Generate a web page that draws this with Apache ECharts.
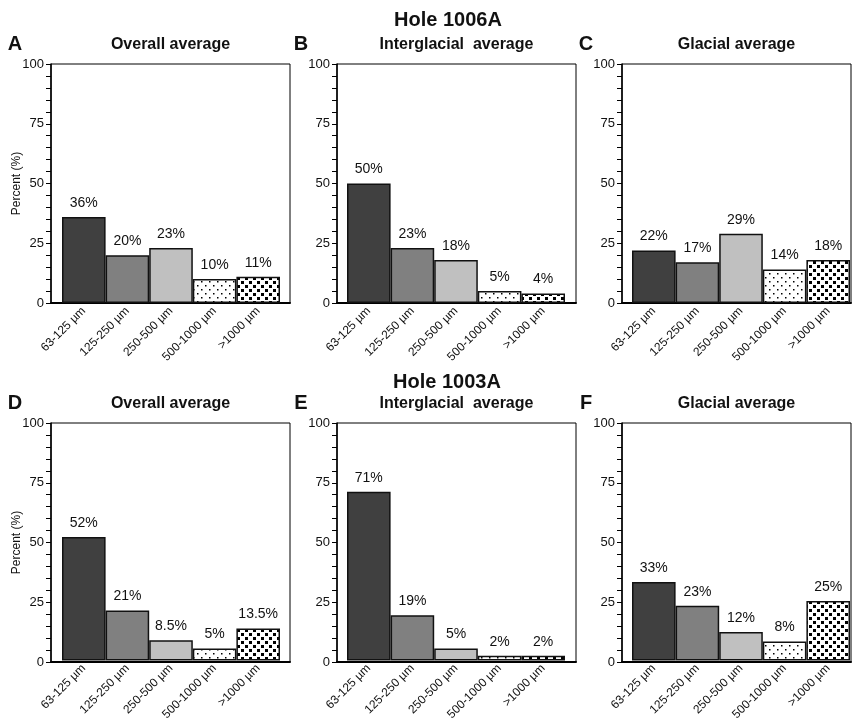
<!DOCTYPE html>
<html>
<head>
<meta charset="utf-8">
<style>
    html, body { margin: 0; padding: 0; background: #fff; }
    #main { width: 852px; height: 723px; }
</style>
<script src="https://cdn.jsdelivr.net/npm/echarts@6/dist/echarts.min.js"></script>
</head>
<body>
<div id="main"></div>
<script>
    var categories = ['63-125 µm', '125-250 µm', '250-500 µm', '500-1000 µm', '>1000 µm'];
    var majorTicks = [0, 25, 50, 75, 100];

    // Hole 1006A
    var overall1006A = [36, 20, 23, 10, 11];
    var interglacial1006A = [50, 23, 18, 5, 4];
    var glacial1006A = [22, 17, 29, 14, 18];
    // Hole 1003A
    var overall1003A = [52, 21, 8.5, 5, 13.5];
    var interglacial1003A = [71, 19, 5, 2, 2];
    var glacial1003A = [33, 23, 12, 8, 25];

    var FONT = '"Liberation Sans", Arial, Helvetica, sans-serif';

    // fill patterns for the two coarse fractions
    function makePattern(size, dots, dotSize) {
        var c = document.createElement('canvas');
        c.width = size;
        c.height = size;
        var ctx = c.getContext('2d');
        ctx.fillStyle = '#fff';
        ctx.fillRect(0, 0, size, size);
        ctx.fillStyle = '#000';
        dots.forEach(function (d) {
            ctx.fillRect(d[0], d[1], dotSize, dotSize);
        });
        return c;
    }
    var sparseDots = makePattern(8, [[1, 1], [5, 5]], 1.5);
    var denseDots = makePattern(8, [[1, 1], [5, 5]], 3);

    var barFills = [
        '#404040',
        '#808080',
        '#c0c0c0',
        { image: sparseDots, repeat: 'repeat' },
        { image: denseDots, repeat: 'repeat' }
    ];

    var panels = [
        { letter: 'A', title: 'Overall average', data: overall1006A, axisX: 51, barX: 62, frameX: 290, top: 64, yName: true },
        { letter: 'B', title: 'Interglacial  average', data: interglacial1006A, axisX: 337, barX: 347, frameX: 576, top: 64 },
        { letter: 'C', title: 'Glacial average', data: glacial1006A, axisX: 622, barX: 632, frameX: 851, top: 64 },
        { letter: 'D', title: 'Overall average', data: overall1003A, axisX: 51, barX: 62, frameX: 290, top: 423, yName: true },
        { letter: 'E', title: 'Interglacial  average', data: interglacial1003A, axisX: 337, barX: 347, frameX: 576, top: 423 },
        { letter: 'F', title: 'Glacial average', data: glacial1003A, axisX: 622, barX: 632, frameX: 851, top: 423 }
    ];
    var plotH = 239;
    var barsW = 218;

    var grid = [], xAxis = [], yAxis = [], series = [], graphic = [];

    panels.forEach(function (p, i) {
        var outer = i * 2, inner = i * 2 + 1;

        grid.push({
            left: p.axisX, top: p.top, width: p.frameX - p.axisX, height: plotH,
            show: true, borderColor: '#000', borderWidth: 1, backgroundColor: 'transparent'
        });
        grid.push({ left: p.barX, top: p.top, width: barsW, height: plotH });

        // frame / y axis
        xAxis.push({
            gridIndex: outer, type: 'value', min: 0, max: 1,
            axisLine: { show: true, lineStyle: { color: '#000', width: 2 } },
            axisTick: { show: false }, axisLabel: { show: false }, splitLine: { show: false }
        });
        yAxis.push({
            gridIndex: outer, type: 'value', min: 0, max: 100, interval: 5,
            name: p.yName ? 'Percent (%)' : '',
            nameLocation: 'middle', nameGap: 28, nameMoveOverlap: false,
            nameTextStyle: { fontFamily: FONT, fontSize: 12, color: '#111' },
            axisLine: { show: true, lineStyle: { color: '#000', width: 1.5 } },
            axisTick: { show: true, length: 5, lineStyle: { color: '#000', width: 1 } },
            axisLabel: {
                margin: 7, fontFamily: FONT, fontSize: 13, color: '#111',
                formatter: function (v) { return majorTicks.indexOf(v) >= 0 ? String(v) : ''; }
            },
            splitLine: { show: false }
        });

        // bars
        xAxis.push({
            gridIndex: inner, type: 'category', data: categories,
            axisLine: { show: false }, axisTick: { show: false },
            axisLabel: { interval: 0, rotate: 45, margin: 6, fontFamily: FONT, fontSize: 12, color: '#111' }
        });
        yAxis.push({ gridIndex: inner, type: 'value', min: 0, max: 100, show: false });

        series.push({
            type: 'bar',
            xAxisIndex: inner, yAxisIndex: inner,
            barCategoryGap: '0%',
            silent: true,
            data: p.data.map(function (v, k) {
                return { value: v, itemStyle: { color: barFills[k] } };
            }),
            itemStyle: { borderColor: '#111', borderWidth: 1.5 },
            label: {
                show: true, position: 'top', distance: 7,
                fontFamily: FONT, fontSize: 14, color: '#111',
                formatter: '{c}%'
            }
        });

        graphic.push({
            type: 'text', x: (p.axisX + p.frameX) / 2, y: p.top - 19,
            style: { text: p.title, font: 'bold 16px ' + FONT, fill: '#111', align: 'center', verticalAlign: 'middle' }
        });
        graphic.push({
            type: 'text', x: p.axisX - 36, y: p.top - 20,
            style: { text: p.letter, font: 'bold 20px ' + FONT, fill: '#111', align: 'center', verticalAlign: 'middle' }
        });
    });

    graphic.push({
        type: 'text', x: 448, y: 20,
        style: { text: 'Hole 1006A', font: 'bold 20px ' + FONT, fill: '#111', align: 'center', verticalAlign: 'middle' }
    });
    graphic.push({
        type: 'text', x: 447, y: 382,
        style: { text: 'Hole 1003A', font: 'bold 20px ' + FONT, fill: '#111', align: 'center', verticalAlign: 'middle' }
    });

    var myChart = echarts.init(document.getElementById('main'));
    myChart.setOption({
        backgroundColor: '#ffffff',
        animation: false,
        textStyle: { fontFamily: FONT },
        grid: grid,
        xAxis: xAxis,
        yAxis: yAxis,
        series: series,
        graphic: graphic
    });
    window.addEventListener('resize', function () {
        myChart.resize();
    });
</script>
</body>
</html>
